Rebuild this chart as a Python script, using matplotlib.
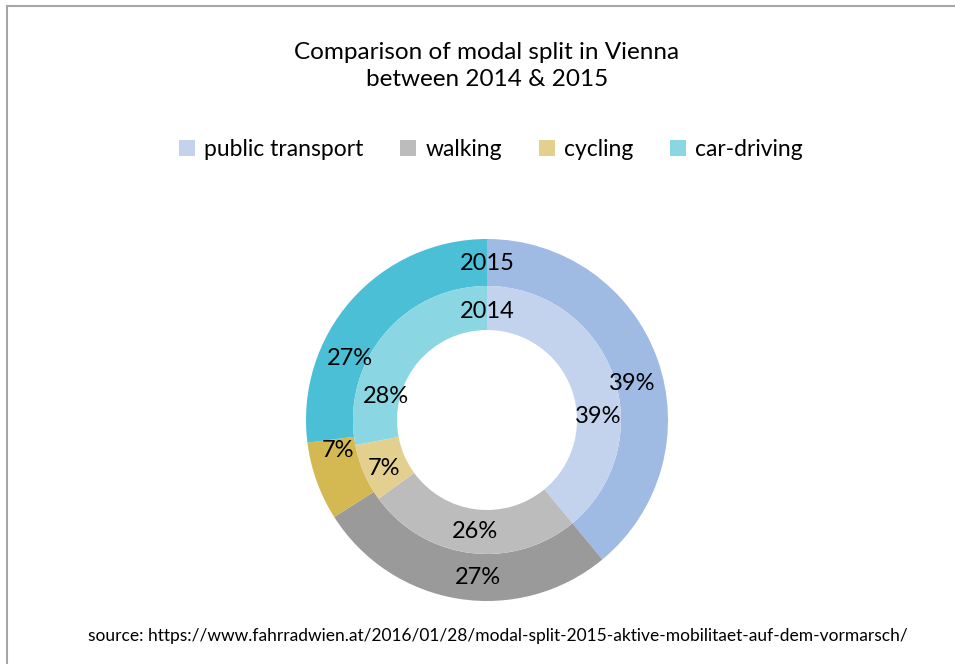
import numpy as np
import matplotlib
matplotlib.use("Agg")
from matplotlib import pyplot as plt
from matplotlib.patches import Patch

plt.rcParams['font.family'] = ['Lato', 'DejaVu Sans']

modes = ['public transport', 'walking', 'cycling', 'car-driving']
share_2015 = [39, 27, 7, 27]
share_2014 = [39, 26, 7, 28]

colors_2015 = ['#9FBAE3', '#9A9A9A', '#D4B852', '#4BBFD5']
colors_2014 = ['#C3D3EE', '#BCBCBC', '#E3D08E', '#8BD6E3']

# label placement (angle in degrees, radius in px) roughly as in the original
outer_label_pos = [(14, 150), (266.7, 158), (191.4, 152), (155.6, 150)]
inner_label_pos = [(2, 111), (264, 112), (205, 114), (167, 104)]

W, H = 955, 664
fig = plt.figure(figsize=(W / 100, H / 100), dpi=100)
ax = fig.add_axes([0, 0, 1, 1])
ax.set_xlim(0, W)
ax.set_ylim(0, H)
ax.set_aspect('equal')
ax.axis('off')

cx, cy = 487, H - 420
r_out, r_mid, r_hole = 181, 134, 90

ax.pie(share_2015, colors=colors_2015, startangle=90, counterclock=False,
       radius=r_out, center=(cx, cy), wedgeprops=dict(width=r_out - r_mid, linewidth=0))
ax.pie(share_2014, colors=colors_2014, startangle=90, counterclock=False,
       radius=r_mid, center=(cx, cy), wedgeprops=dict(width=r_mid - r_hole, linewidth=0))
ax.set_xlim(0, W)
ax.set_ylim(0, H)

for v, (a, r) in zip(share_2015, outer_label_pos):
    t = np.deg2rad(a)
    ax.text(cx + r * np.cos(t), cy + r * np.sin(t), f"{v}%", ha='center', va='center', fontsize=17)
for v, (a, r) in zip(share_2014, inner_label_pos):
    t = np.deg2rad(a)
    ax.text(cx + r * np.cos(t), cy + r * np.sin(t), f"{v}%", ha='center', va='center', fontsize=17)

ax.text(cx, cy + 157, '2015', ha='center', va='center', fontsize=17)
ax.text(cx, cy + 109, '2014', ha='center', va='center', fontsize=17)

fig.text(487 / W, 1 - 66 / H, 'Comparison of modal split in Vienna\nbetween 2014 & 2015',
         ha='center', va='center', fontsize=17.5, linespacing=1.3)

handles = [Patch(facecolor=c, edgecolor='none') for c in colors_2014]
fig.legend(handles, modes, loc='center', bbox_to_anchor=(491 / W, 1 - 150 / H), ncol=4,
           frameon=False, fontsize=16.5, handlelength=0.7, handleheight=0.7,
           handletextpad=0.4, columnspacing=1.6)

fig.text(498 / W, 1 - 636 / H,
         'source: https://www.fahrradwien.at/2016/01/28/modal-split-2015-aktive-mobilitaet-auf-dem-vormarsch/',
         ha='center', va='center', fontsize=12.5)

# border lines (top and left, as in the cropped original)
ax.plot([7, W], [H - 6, H - 6], color='#A6A6A6', lw=1.5)
ax.plot([7, 7], [0, H - 6], color='#A6A6A6', lw=1.5)

fig.savefig('out.png', dpi=100)
